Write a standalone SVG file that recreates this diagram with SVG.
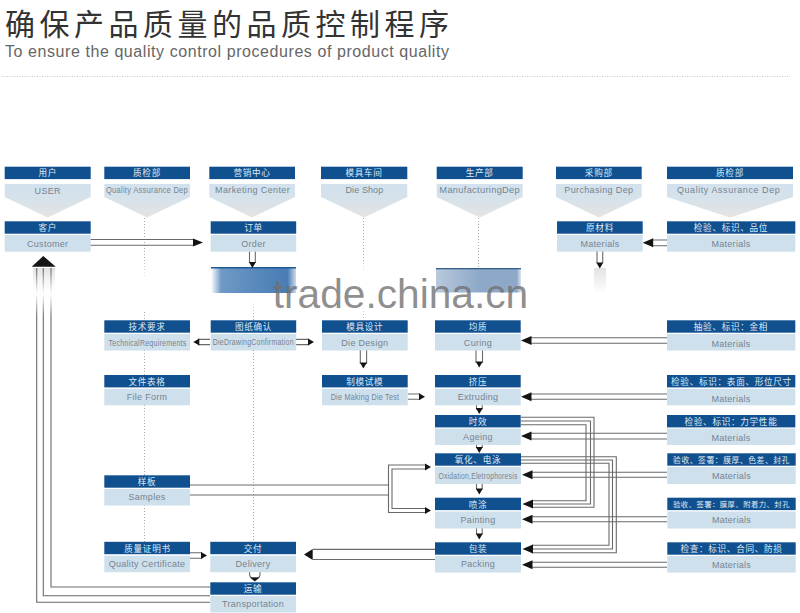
<svg xmlns="http://www.w3.org/2000/svg" width="800" height="613" viewBox="0 0 800 613">
<style>
.h{fill:#10508f}
.b{fill:#cfe0ed}
.p{fill:url(#pent)}
.ht{font:8.6px "Noto Sans CJK SC","Liberation Sans",sans-serif;letter-spacing:.7px;fill:#dfeaf5;text-anchor:middle}
.ht.s1{font-size:7.8px;letter-spacing:.55px}
.ht.s2{font-size:7.4px;letter-spacing:.4px}
.bt{font:9px "Liberation Sans",Arial,sans-serif;letter-spacing:.3px;fill:#76838f;text-anchor:middle}
.c{fill:none;stroke:#6a6a6a;stroke-width:1.1}
.d{fill:none;stroke:#a8a8a8;stroke-width:1;stroke-dasharray:1 2}
.k{fill:#141414}
</style>
<defs>
<linearGradient id="pent" x1="0" y1="0" x2="0" y2="1"><stop offset="0" stop-color="#d2e1ee"/><stop offset=".45" stop-color="#d6e2ea"/><stop offset="1" stop-color="#e4e4e2"/></linearGradient>
<linearGradient id="fadeOut" x1="0" y1="0" x2="0" y2="1"><stop offset="0" stop-color="#fff" stop-opacity="0"/><stop offset="1" stop-color="#fff"/></linearGradient>
<linearGradient id="fadeIn" x1="0" y1="0" x2="0" y2="1"><stop offset="0" stop-color="#fff"/><stop offset="1" stop-color="#fff" stop-opacity="0"/></linearGradient>
<linearGradient id="haze" x1="0" y1="0" x2="0" y2="1"><stop offset="0" stop-color="#e2e2e2"/><stop offset="1" stop-color="#fff"/></linearGradient>
<linearGradient id="band1" x1="0" y1="0" x2="1" y2="0"><stop offset="0" stop-color="#fff"/><stop offset=".12" stop-color="#6f9ac6"/><stop offset=".5" stop-color="#5a8abd"/><stop offset=".9" stop-color="#4a7db4"/><stop offset="1" stop-color="#cddcea"/></linearGradient>
<linearGradient id="band2" x1="0" y1="0" x2="1" y2="0"><stop offset="0" stop-color="#b9c9dc"/><stop offset=".5" stop-color="#8ea9c8"/><stop offset=".95" stop-color="#8ea9c8"/><stop offset="1" stop-color="#dfe7f0"/></linearGradient>
<path id="hL" class="k" d="M0 0L10.5-4.5V4.5Z"/>
<path id="hR" class="k" d="M0 0L-10-4V4Z"/>
<path id="hRs" class="k" d="M0 0L-6-3.5V3.5Z"/>
<path id="hLs" class="k" d="M0 0L6-3.5V3.5Z"/>
<path id="hD" class="k" d="M0 0L-3.5-6H3.5Z"/>
</defs>
<rect width="800" height="613" fill="#fff"/>

<text x="5" y="35" font-family="'Noto Sans CJK SC','Liberation Sans',sans-serif" font-size="30" fill="#333" textLength="444" lengthAdjust="spacing">确保产品质量的品质控制程序</text>
<text x="5" y="57" font-family="'Liberation Sans',Arial,sans-serif" font-size="16" fill="#666" textLength="444" lengthAdjust="spacing">To ensure the quality control procedures of product quality</text>
<line x1="2" y1="76.5" x2="790" y2="76.5" stroke="#c8c8c8" stroke-width="1" stroke-dasharray="1 1.5"/>

<rect x="211" y="268" width="85" height="25" fill="url(#band1)"/>
<rect x="211" y="267" width="85" height="1.5" fill="#1d5a96"/>
<rect x="436" y="269" width="85" height="23.5" fill="url(#band2)"/>
<rect x="436" y="268" width="85" height="1.3" fill="#345f8c"/>
<rect x="594" y="268" width="12" height="25" fill="url(#haze)"/>
<rect x="33" y="268" width="22" height="32" fill="url(#haze)"/>

<g id="connectors">
<path class="d" d="M144.5 218V278M144.5 312V320M144.5 350V375M144.5 405V475M144.5 505V542"/>
<path class="d" d="M253.5 298V320M253.5 350V542"/>
<path class="d" d="M363.5 218V274M363.5 305V320"/>
<path class="d" d="M478.5 218V267"/>

<path class="c" d="M90 239.5H194M90 245.3H194"/><use href="#hR" x="203" y="242.4"/>
<path class="c" d="M249.5 251V263M255.3 251V263"/><use href="#hD" x="252.4" y="268"/>
<path class="c" d="M597 251V263M602.7 251V263"/><use href="#hD" x="599.8" y="268.5"/>
<path class="c" d="M667 240H652M667 245.7H652"/><use href="#hL" x="642.7" y="242.8"/>

<path class="c" d="M210 602.3H36.7V268M210 595.7H43.3V268M210 587H51V268"/>
<path class="k" d="M43.3 256L55.7 266.7H31.7Z"/>

<path class="c" d="M210 339.4H198M210 344.6H198"/><use href="#hLs" x="193.3" y="342"/>
<path class="c" d="M296 339.4H309M296 344.6H309"/><use href="#hRs" x="314" y="342"/>
<path class="c" d="M360.3 350V364M366.6 350V364"/><use href="#hD" x="363.4" y="368.5"/>
<path class="c" d="M408 394H420M408 399.3H420"/><use href="#hRs" x="425" y="396.7"/>

<path class="c" d="M476 350V363M482.5 350V363"/><use href="#hD" x="479.2" y="367.5"/>
<path class="c" d="M476.5 405V409.5M482.2 405V409.5"/><use href="#hD" x="479.3" y="414"/>
<path class="c" d="M476.5 445V448M482.2 445V448"/><use href="#hD" x="479.3" y="453"/>
<path class="c" d="M476.5 484V489.5M482.2 484V489.5"/><use href="#hD" x="479.3" y="494.5"/>
<path class="c" d="M476.5 528V534.5M482.2 528V534.5"/><use href="#hD" x="479.3" y="539.5"/>

<path class="c" d="M667 337.7H531M667 343.3H531"/><use href="#hL" x="521" y="340.5"/>
<path class="c" d="M667 394H531M667 399.3H531"/><use href="#hL" x="521" y="396.7"/>
<path class="c" d="M667 433.3H531M667 439H531"/><use href="#hL" x="521" y="436.1"/>
<path class="c" d="M667 472.3H531M667 477.3H531"/><use href="#hL" x="522" y="474.8"/>
<path class="c" d="M667 516.7H531M667 521.7H531"/><use href="#hL" x="522" y="519.2"/>
<path class="c" d="M667 562.3H531M667 567.3H531"/><use href="#hL" x="522" y="564.8"/>

<path class="c" d="M521 417.3H594V507.3H532M521 421H590.5V504H532M521 424.7H586V500.7H532"/><use href="#hL" x="522.5" y="504"/>
<path class="c" d="M521 456.7H616.3V552.7H532M521 460H612.5V549H532M521 463.3H609V545.3H532"/><use href="#hL" x="522.5" y="549"/>

<path class="c" d="M190 485H388.5M190 495H388.5"/>
<path class="c" d="M426 465H388.5V512.5H426M426 469H392V508.5H426"/>
<use href="#hRs" x="431" y="467"/><use href="#hRs" x="431" y="510.5"/>

<path class="c" d="M435 549.4H313M435 559.5H313"/>
<path class="k" d="M304 554.5L312.7 549V560Z"/>
<path class="c" d="M190 552.7H202M190 558.3H202"/><use href="#hRs" x="207" y="555.5"/>
<path class="c" d="M249.6 572V574Q249.6 578 253 578H257Q260 578 260 574V572"/><path class="k" d="M254.8 581.5L250 577.5H259.6Z"/>
</g>

<rect x="30" y="270" width="30" height="24" fill="url(#fadeOut)"/>
<rect x="30" y="294" width="30" height="22" fill="url(#fadeIn)"/>
<rect x="139" y="258" width="11" height="22" fill="url(#fadeOut)"/>
<rect x="358" y="255" width="11" height="20" fill="url(#fadeOut)"/>
<rect x="358" y="304" width="11" height="14" fill="url(#fadeIn)"/>
<rect x="248" y="297" width="11" height="20" fill="url(#fadeIn)"/>

<g id="n-user"><path class="p" d="M4.7 184H90.7V197L47.7 217.5L4.7 197Z"/><rect class="h" x="4.7" y="166.7" width="86" height="12.4"/><text class="ht" x="47.7" y="176.3">用户</text><text class="bt" x="47.7" y="193.5">USER</text></g>
<g id="n-qa1"><path class="p" d="M104.3 184H190V197L147 217.5L104.3 197Z"/><rect class="h" x="104.3" y="166.7" width="85.7" height="12.4"/><text class="ht" x="147" y="176.3">质检部</text><text class="bt" x="147" y="192.5" textLength="82" lengthAdjust="spacingAndGlyphs">Quality Assurance Dep</text></g>
<g id="n-marketing"><path class="p" d="M209.3 184H295V197L252 217.5L209.3 197Z"/><rect class="h" x="209.3" y="166.7" width="85.7" height="12.4"/><text class="ht" x="252" y="176.3">营销中心</text><text class="bt" x="252.5" y="192.5" textLength="75">Marketing Center</text></g>
<g id="n-dieshop"><path class="p" d="M321 184H407.3V197L364 217.5L321 197Z"/><rect class="h" x="321" y="166.7" width="86.3" height="12.4"/><text class="ht" x="364" y="176.3">模具车间</text><text class="bt" x="364.5" y="192.5" textLength="38">Die Shop</text></g>
<g id="n-mfg"><path class="p" d="M436.7 184H522.7V197L479.7 217.5L436.7 197Z"/><rect class="h" x="436.7" y="166.7" width="86" height="12.4"/><text class="ht" x="479.7" y="176.3">生产部</text><text class="bt" x="479.7" y="192.5" textLength="80.7" lengthAdjust="spacingAndGlyphs">ManufacturingDep</text></g>
<g id="n-purchasing"><path class="p" d="M556 184H641.7V197L599 217.5L556 197Z"/><rect class="h" x="556" y="166.7" width="85.7" height="12.4"/><text class="ht" x="598.8" y="176.3">采购部</text><text class="bt" x="598.8" y="192.5" textLength="69">Purchasing Dep</text></g>
<g id="n-qa2"><path class="p" d="M667 184H793V197L730 217.5L667 197Z"/><rect class="h" x="667" y="166.7" width="126" height="12.4"/><text class="ht" x="730" y="176.3">质检部</text><text class="bt" x="728.5" y="192.5" textLength="103">Quality Assurance Dep</text></g>

<g id="n-customer"><rect class="b" x="4.7" y="235" width="86" height="16.7"/><rect class="h" x="4.7" y="221.3" width="86" height="12.4"/><text class="ht" x="47.7" y="231">客户</text><text class="bt" x="47.7" y="247">Customer</text></g>
<g id="n-order"><rect class="b" x="210.7" y="235" width="85.5" height="16.7"/><rect class="h" x="210.7" y="221.3" width="85.5" height="12.4"/><text class="ht" x="253.5" y="231">订单</text><text class="bt" x="253.5" y="247">Order</text></g>
<g id="n-materials"><rect class="b" x="557" y="235" width="85.7" height="16.7"/><rect class="h" x="557" y="221.3" width="85.7" height="12.4"/><text class="ht" x="600" y="231">原材料</text><text class="bt" x="600" y="247">Materials</text></g>
<g id="n-mat1"><rect class="b" x="667" y="235" width="128.3" height="16.7"/><rect class="h" x="667" y="221.3" width="128.3" height="12.4"/><text class="ht" x="731" y="231">检验、标识、品位</text><text class="bt" x="731" y="247">Materials</text></g>

<g id="n-tech"><rect class="b" x="104.3" y="334" width="85.7" height="16.5"/><rect class="h" x="104.3" y="320.3" width="85.7" height="12.4"/><text class="ht" x="147" y="330">技术要求</text><text class="bt" x="147.5" y="345.5" textLength="78" lengthAdjust="spacingAndGlyphs">TechnicalRequirements</text></g>
<g id="n-drawing"><rect class="b" x="210.7" y="334" width="85.5" height="16.5"/><rect class="h" x="210.7" y="320.3" width="85.5" height="12.4"/><text class="ht" x="253.5" y="330">图纸确认</text><text class="bt" x="253.3" y="345" textLength="81" lengthAdjust="spacingAndGlyphs">DieDrawingConfirmation</text></g>
<g id="n-design"><rect class="b" x="322" y="334" width="85.7" height="16.5"/><rect class="h" x="322" y="320.3" width="85.7" height="12.4"/><text class="ht" x="364.8" y="330">模具设计</text><text class="bt" x="364.8" y="345.5">Die Design</text></g>
<g id="n-curing"><rect class="b" x="435" y="334" width="85.7" height="16.5"/><rect class="h" x="435" y="320.3" width="85.7" height="12.4"/><text class="ht" x="478" y="330">均质</text><text class="bt" x="478" y="345.5">Curing</text></g>
<g id="n-mat2"><rect class="b" x="667" y="334" width="128.3" height="16.5"/><rect class="h" x="667" y="320.3" width="128.3" height="12.4"/><text class="ht" x="731" y="330">抽验、标识：金相</text><text class="bt" x="731" y="347">Materials</text></g>

<g id="n-form"><rect class="b" x="104.3" y="388.8" width="85.7" height="16.5"/><rect class="h" x="104.3" y="375" width="85.7" height="12.4"/><text class="ht" x="147" y="384.8">文件表格</text><text class="bt" x="147" y="399.5">File Form</text></g>
<g id="n-making"><rect class="b" x="322" y="388.8" width="85.7" height="16.5"/><rect class="h" x="322" y="375" width="85.7" height="12.4"/><text class="ht" x="364.8" y="384.8">制模试模</text><text class="bt" x="365" y="399.5" textLength="68.7" lengthAdjust="spacingAndGlyphs">Die Making Die Test</text></g>
<g id="n-extruding"><rect class="b" x="435" y="388.8" width="85.7" height="16.5"/><rect class="h" x="435" y="375" width="85.7" height="12.4"/><text class="ht" x="478" y="384.8">挤压</text><text class="bt" x="478" y="400">Extruding</text></g>
<g id="n-mat3"><rect class="b" x="667" y="388.8" width="128.3" height="16.5"/><rect class="h" x="667" y="375" width="128.3" height="12.4"/><text class="ht" x="731.5" y="384.8">检验、标识：表面、形位尺寸</text><text class="bt" x="731" y="401.5">Materials</text></g>

<g id="n-ageing"><rect class="b" x="435" y="428.5" width="85.7" height="16.5"/><rect class="h" x="435" y="415" width="85.7" height="12.4"/><text class="ht" x="478" y="424.8">时效</text><text class="bt" x="478" y="440">Ageing</text></g>
<g id="n-mat4"><rect class="b" x="667" y="428.5" width="128.3" height="16.5"/><rect class="h" x="667" y="415" width="128.3" height="12.4"/><text class="ht" x="731" y="424.8">检验、标识：力学性能</text><text class="bt" x="731" y="440.5">Materials</text></g>

<g id="n-oxidation"><rect class="b" x="435" y="467" width="86" height="17"/><rect class="h" x="435" y="453.3" width="86" height="12.4"/><text class="ht" x="478" y="463">氧化、电泳</text><text class="bt" x="478" y="478.5" textLength="79" lengthAdjust="spacingAndGlyphs">Oxidation,Eletrophoresis</text></g>
<g id="n-mat5"><rect class="b" x="667.3" y="467" width="128.4" height="17"/><rect class="h" x="667.3" y="453.3" width="128.4" height="12.4"/><text class="ht s1" x="731.5" y="462.5">验收、签署：膜厚、色差、封孔</text><text class="bt" x="731.5" y="479">Materials</text></g>

<g id="n-samples"><rect class="b" x="104.3" y="489" width="85.7" height="16.5"/><rect class="h" x="104.3" y="475.3" width="85.7" height="12.4"/><text class="ht" x="147" y="485">样板</text><text class="bt" x="147" y="500">Samples</text></g>

<g id="n-painting"><rect class="b" x="435" y="511.5" width="86" height="17"/><rect class="h" x="435" y="497.7" width="86" height="12.4"/><text class="ht" x="478" y="507.5">喷涂</text><text class="bt" x="478" y="522.5">Painting</text></g>
<g id="n-mat6"><rect class="b" x="667.3" y="511.5" width="128.4" height="17"/><rect class="h" x="667.3" y="497.7" width="128.4" height="12.4"/><text class="ht s2" x="731.5" y="506.8">验收、签署：膜厚、附着力、封孔</text><text class="bt" x="731.5" y="523">Materials</text></g>

<g id="n-cert"><rect class="b" x="104.3" y="555.7" width="85.7" height="16.5"/><rect class="h" x="104.3" y="541.8" width="85.7" height="12.4"/><text class="ht" x="147.5" y="551.5">质量证明书</text><text class="bt" x="147" y="566.5">Quality Certificate</text></g>
<g id="n-delivery"><rect class="b" x="210.3" y="555.7" width="85.7" height="16.5"/><rect class="h" x="210.3" y="541.8" width="85.7" height="12.4"/><text class="ht" x="253" y="551.5">交付</text><text class="bt" x="253" y="566.5">Delivery</text></g>
<g id="n-packing"><rect class="b" x="435" y="556" width="86" height="16.5"/><rect class="h" x="435" y="542.3" width="86" height="12.4"/><text class="ht" x="478" y="552">包装</text><text class="bt" x="478" y="567">Packing</text></g>
<g id="n-mat7"><rect class="b" x="667.3" y="556" width="128.4" height="16.5"/><rect class="h" x="667.3" y="542.3" width="128.4" height="12.4"/><text class="ht" x="731.5" y="552">检查：标识、合同、防损</text><text class="bt" x="731.5" y="567.5">Materials</text></g>

<g id="n-transport"><rect class="b" x="210.3" y="596" width="85.7" height="16.5"/><rect class="h" x="210.3" y="582.3" width="85.7" height="12.4"/><text class="ht" x="253" y="592">运输</text><text class="bt" x="253" y="607">Transportation</text></g>

<text x="272.7" y="308" font-family="'Liberation Sans',Arial,sans-serif" font-size="41" fill="#707070" fill-opacity=".78" textLength="255.5" lengthAdjust="spacingAndGlyphs">trade.china.cn</text>
</svg>
